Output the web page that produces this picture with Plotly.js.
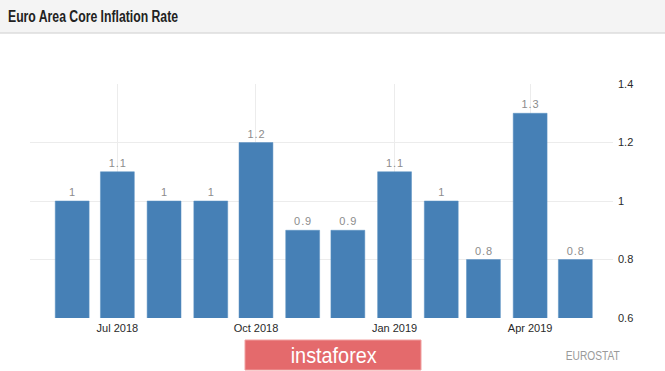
<!DOCTYPE html>
<html>
<head>
<meta charset="utf-8">
<script src="https://cdn.plot.ly/plotly-3.0.1.min.js"></script>
<style>
html,body{margin:0;padding:0;background:#fff;}
#chart{width:665px;height:371px;}
</style>
</head>
<body>
<div id="chart"></div>
<script>
// Data
const months = ["2018-06-01","2018-07-01","2018-08-01","2018-09-01","2018-10-01","2018-11-01",
                "2018-12-01","2019-01-01","2019-02-01","2019-03-01","2019-04-01","2019-05-01"];
const coreInflation = [1, 1.1, 1, 1, 1.2, 0.9, 0.9, 1.1, 1, 0.8, 1.3, 0.8];
const yTickVals = [0.6, 0.8, 1, 1.2, 1.4];
const yTickText = ["0.6", "0.8", "1", "1.2", "1.4"];
const chartTitle = "Euro Area Core Inflation Rate";
const sourceLabel = "EUROSTAT";
const watermark = "instaforex";

// Layout geometry (pixels)
const W = 665, H = 371;
const L = 30, R = 613, T = 84, B = 318;
const px = p => (p - L) / (R - L);
const py = p => (B - p) / (B - T);

const DAY = 86400000;
const labelFont = {family: "Liberation Sans, Arial, sans-serif", size: 11, color: "#8c8c8c"};

const trace = {
  type: "bar",
  x: months,
  y: coreInflation,
  width: 22.5 * DAY,
  marker: {color: "#4680b6", line: {color: "#5a90c2", width: 0.5}},
  text: coreInflation.map(v => String(v).split("").join("\u200A")),
  textposition: "outside",
  textfont: labelFont,
  outsidetextfont: labelFont,
  cliponaxis: false,
  hoverinfo: "x+y"
};

const layout = {
  width: W, height: H,
  margin: {l: L, r: W - R, t: T, b: H - B, pad: 0},
  paper_bgcolor: "#ffffff",
  plot_bgcolor: "#ffffff",
  showlegend: false,
  bargap: 0,
  title: {
    text: "<b>" + chartTitle + "</b>",
    x: 8 / W, xanchor: "left",
    y: 1 - 16 / H, yanchor: "middle",
    font: {family: "Liberation Sans, Arial, sans-serif", size: 16, color: "#222222"}
  },
  xaxis: {
    type: "date",
    range: ["2018-05-04", "2019-05-26"],
    tick0: "2018-07-01",
    dtick: "M3",
    tickformat: "%b %Y",
    showgrid: true,
    gridcolor: "#ececec",
    gridwidth: 1,
    zeroline: false,
    showline: false,
    ticks: "",
    ticklabelstandoff: 2,
    tickfont: {family: "Liberation Sans, Arial, sans-serif", size: 11, color: "#2a2a2a"},
    fixedrange: true
  },
  yaxis: {
    side: "right",
    range: [0.6, 1.4],
    tickvals: yTickVals,
    ticktext: yTickText,
    showgrid: true,
    gridcolor: "#ececec",
    gridwidth: 1,
    zeroline: false,
    showline: false,
    ticks: "",
    ticklabelstandoff: 4,
    tickfont: {family: "Liberation Sans, Arial, sans-serif", size: 11, color: "#2a2a2a"},
    fixedrange: true
  },
  shapes: [
    // header band
    {type: "rect", xref: "paper", yref: "paper", x0: px(0), x1: px(W), y0: py(33), y1: py(0),
     fillcolor: "#f4f4f4", line: {width: 0}, layer: "below"},
    {type: "line", xref: "paper", yref: "paper", x0: px(0), x1: px(W), y0: py(33), y1: py(33),
     line: {color: "#dcdcdc", width: 1.5}},
    // watermark box
    {type: "rect", xref: "paper", yref: "paper", x0: px(245), x1: px(421), y0: py(370), y1: py(340),
     fillcolor: "#e46a6c", line: {color: "#f0a0a0", width: 1}, layer: "above"}
  ],
  annotations: [
    {xref: "paper", yref: "paper", x: px(333), y: py(355), xanchor: "center", yanchor: "middle",
     text: watermark, showarrow: false,
     font: {family: "Liberation Sans, Arial, sans-serif", size: 22, color: "#ffffff"}},
    {xref: "paper", yref: "paper", x: px(627), y: py(356), xanchor: "right", yanchor: "middle",
     text: sourceLabel, showarrow: false,
     font: {family: "Liberation Sans, Arial, sans-serif", size: 12, color: "#9a9a9a"}}
  ]
};

function condense(el, len) {
  if (!el) return;
  el.setAttribute("textLength", len);
  el.setAttribute("lengthAdjust", "spacingAndGlyphs");
}

Plotly.newPlot("chart", [trace], layout, {displayModeBar: false, staticPlot: true}).then(gd => {
  condense(gd.querySelector(".gtitle"), 170);
  const ann = gd.querySelectorAll(".annotation-text");
  condense(ann[0], 86);
  condense(ann[1], 54);
});
</script>
</body>
</html>
